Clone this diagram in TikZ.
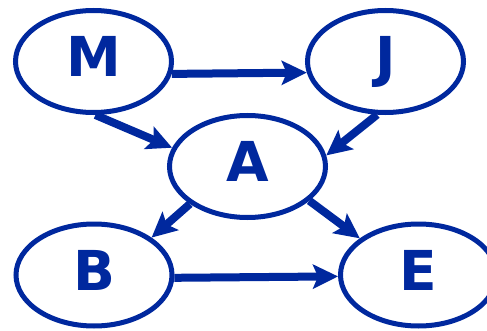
\documentclass[tikz,border=0pt]{standalone}
\usepackage{fontspec}
\setmainfont{DejaVu Sans}
\usetikzlibrary{arrows.meta,shapes.geometric}
\definecolor{netblue}{RGB}{0,40,158}
\tikzset{
  varnode/.style={ellipse,draw=netblue,line width=5pt,inner sep=0pt,
    minimum width=156pt,minimum height=102pt,text=netblue,
    text height=40pt,text depth=10pt,
    font=\fontsize{55pt}{55pt}\selectfont\bfseries},
  dep/.style={draw=netblue,line width=8pt,
    -{Stealth[length=25pt,width=24pt,inset=5pt]}}
}
\begin{document}
\begin{tikzpicture}[x=1pt,y=1pt]
\useasboundingbox (0,0) rectangle (487,330);
\clip (0,0) rectangle (487,330);

\node[varnode] (M) at (93.5,268.5) {M};
\node[varnode] (J) at (385.5,268.5) {J};
\node[varnode] (A) at (247.5,163.5) {A};
\node[varnode] (B) at (94,55) {B};
\node[varnode] (E) at (418.5,55) {E};

\draw[dep] (M.-9) to (J.188);
\draw[dep] (M.-88) to (A.166);
\draw[dep] (J.261) to (A.8);
\draw[dep] (A.213) to (B.33);
\draw[dep] (A.-29) to (E.148);
\draw[dep] (B.-2) to (E.181);
\end{tikzpicture}
\end{document}
